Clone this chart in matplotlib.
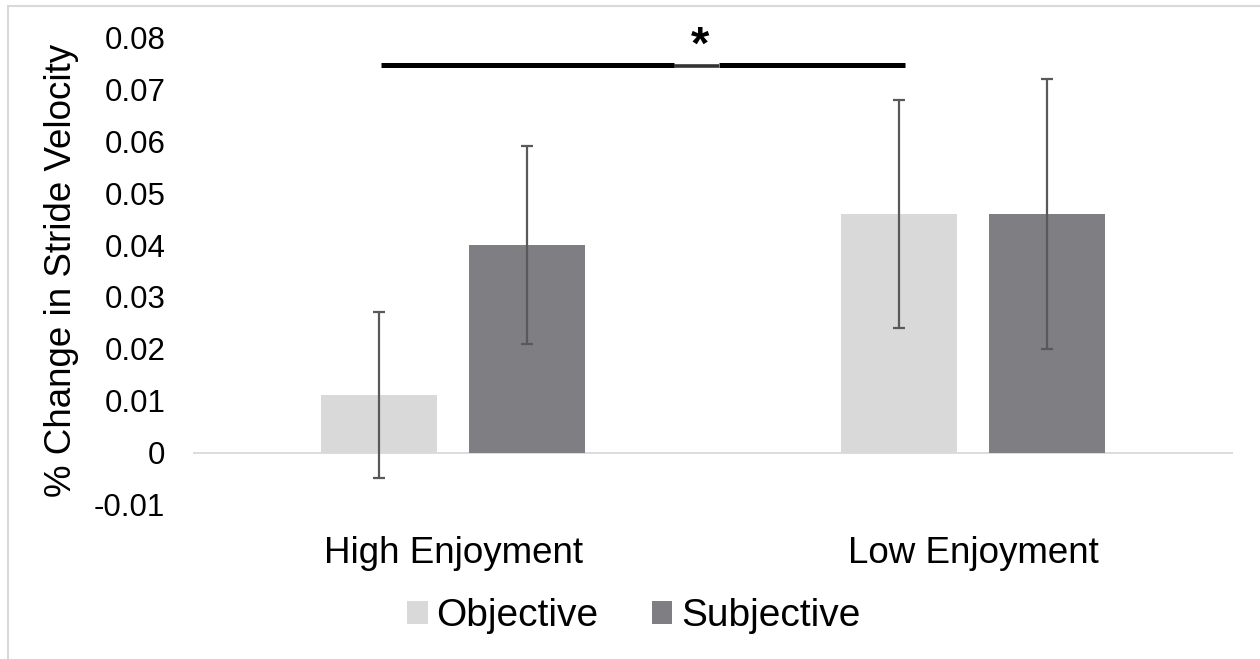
import matplotlib
matplotlib.use("Agg")
import matplotlib.pyplot as plt
from matplotlib.patches import Patch, Rectangle
import numpy as np

plt.rcParams["font.family"] = ["Liberation Sans", "DejaVu Sans"]

# data
groups = ["High Enjoyment", "Low Enjoyment"]
series = ["Objective", "Subjective"]
objective = [0.011, 0.046]
subjective = [0.040, 0.046]
objective_lo = [-0.005, 0.024]
objective_hi = [0.027, 0.068]
subjective_lo = [0.021, 0.020]
subjective_hi = [0.059, 0.072]
yticks = [-0.01, 0, 0.01, 0.02, 0.03, 0.04, 0.05, 0.06, 0.07, 0.08]
ytick_labels = ["-0.01", "0", "0.01", "0.02", "0.03", "0.04", "0.05", "0.06", "0.07", "0.08"]

col_obj = "#D9D9D9"
col_subj = "#7F7E83"
col_err = "#595959"

fig = plt.figure(figsize=(12.6, 6.59), dpi=100)
ax = fig.add_axes([0.1532, 0.2346, 0.8254, 0.7085])

x = np.arange(len(groups))
w = 0.223
off = 0.1415

for vals, lo, hi, col, dx in [
    (objective, objective_lo, objective_hi, col_obj, -off),
    (subjective, subjective_lo, subjective_hi, col_subj, off),
]:
    vals = np.array(vals)
    yerr = [vals - np.array(lo), np.array(hi) - vals]
    ax.bar(x + dx, vals, width=w, color=col, zorder=2)
    ax.errorbar(x + dx, vals, yerr=yerr, fmt="none", ecolor=col_err,
                elinewidth=1.6, capsize=4.5, capthick=1.6, zorder=3)

ax.axhline(0, color="#D9D9D9", lw=1.3, zorder=1)

# significance bar
ax.plot([-0.138, 0.425], [0.0747, 0.0747], color="black", lw=3.6, solid_capstyle="butt", clip_on=False)
ax.plot([0.425, 0.512], [0.0745, 0.0745], color="#333333", lw=2.6, solid_capstyle="butt", clip_on=False)
ax.plot([0.512, 0.869], [0.0747, 0.0747], color="black", lw=3.6, solid_capstyle="butt", clip_on=False)
ax.text(0.475, 0.0782, "*", ha="center", va="center", fontsize=34, fontweight="bold", clip_on=False)

ax.set_xlim(-0.5, 1.5)
ax.set_ylim(-0.01, 0.08)
ax.set_yticks(yticks)
ax.set_yticklabels(ytick_labels)
ax.set_xticks(x)
ax.set_xticklabels(groups)
ax.tick_params(axis="y", length=0, pad=20, labelsize=22.5)
ax.tick_params(axis="x", length=0, pad=23, labelsize=26.5)
for s in ax.spines.values():
    s.set_visible(False)

fig.text(62 / 1260, 0.589, "% Change in Stride Velocity", rotation=90,
         ha="center", va="center", fontsize=26.5)

handles = [Patch(facecolor=col_obj, label=series[0]),
           Patch(facecolor=col_subj, label=series[1])]
fig.legend(handles=handles, loc="center", bbox_to_anchor=(0.503, 0.065), ncol=2,
           frameon=False, fontsize=28, handlelength=0.52, handleheight=0.52,
           handletextpad=0.22, columnspacing=1.38)

# outer chart border
fig.patches.append(Rectangle((8 / 1260, -0.2), 1.2, 1.2 - 6 / 659, transform=fig.transFigure,
                             fill=False, edgecolor="#D9D9D9", lw=1.5))

fig.savefig("out.png", dpi=100)
